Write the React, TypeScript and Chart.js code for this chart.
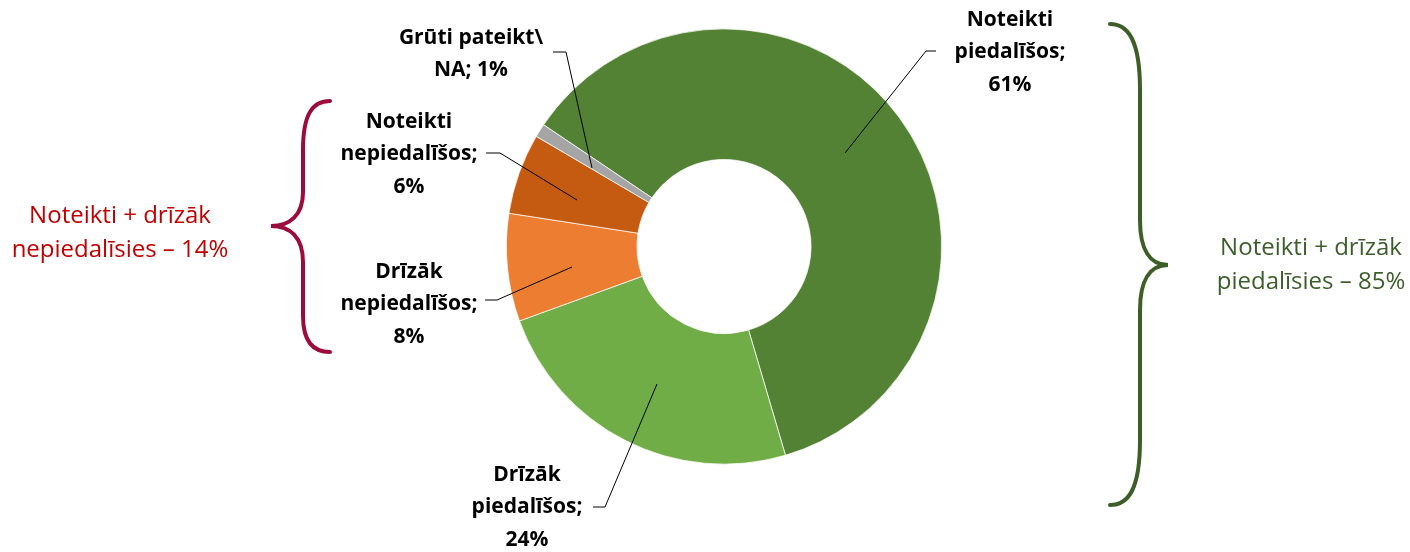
import React, { useEffect, useRef } from "react";
import { Chart, registerables } from "chart.js";

Chart.register(...registerables);

const categories = [
  "Noteikti piedalīšos",
  "Drīzāk piedalīšos",
  "Drīzāk nepiedalīšos",
  "Noteikti nepiedalīšos",
  "Grūti pateikt\\ NA",
];
const values = [61, 24, 8, 6, 1];
const colors = ["#548235", "#70AD47", "#ED7D31", "#C55A11", "#A5A5A5"];

// label text lines per slice
const labelLines = [
  ["Noteikti", "piedalīšos;", "61%"],
  ["Drīzāk", "piedalīšos;", "24%"],
  ["Drīzāk", "nepiedalīšos;", "8%"],
  ["Noteikti", "nepiedalīšos;", "6%"],
  ["Grūti pateikt\\", "NA; 1%"],
];
// label block centers (x, first line y)
const labelPos = [
  [1010, 20],
  [527, 475],
  [409, 272],
  [409, 122],
  [471, 38],
];
// leader line points
const leaderLines = [
  [[936, 51], [926, 51], [845, 153]],
  [[593, 507], [605, 507], [657, 384]],
  [[485, 300], [497, 300], [572, 267]],
  [[486, 153], [500, 153], [577, 200]],
  [[553, 52], [566, 52], [592, 168]],
];

const groupLeft = ["Noteikti + drīzāk", "nepiedalīsies – 14%"];
const groupRight = ["Noteikti + drīzāk", "piedalīsies – 85%"];

const overlayPlugin = {
  id: "overlay",
  afterDraw(chart: any) {
    const ctx = chart.ctx as CanvasRenderingContext2D;
    ctx.save();
    ctx.strokeStyle = "#000";
    ctx.lineWidth = 1;
    leaderLines.forEach((pts) => {
      ctx.beginPath();
      ctx.moveTo(pts[0][0], pts[0][1]);
      for (let i = 1; i < pts.length; i++) ctx.lineTo(pts[i][0], pts[i][1]);
      ctx.stroke();
    });
    ctx.fillStyle = "#000";
    ctx.font = "bold 21px 'Open Sans'";
    ctx.textAlign = "center";
    ctx.textBaseline = "middle";
    labelLines.forEach((lines, i) => {
      lines.forEach((t, j) => {
        ctx.fillText(t, labelPos[i][0], labelPos[i][1] + j * 32.5);
      });
    });

    // left brace (red)
    ctx.strokeStyle = "#9B0B3B";
    ctx.lineWidth = 4;
    ctx.lineCap = "round";
    ctx.beginPath();
    ctx.moveTo(330, 101);
    ctx.bezierCurveTo(312, 101, 303, 115, 303, 150);
    ctx.lineTo(303, 192);
    ctx.bezierCurveTo(303, 215, 290, 226, 271, 226);
    ctx.bezierCurveTo(290, 226, 303, 237, 303, 262);
    ctx.lineTo(303, 316);
    ctx.bezierCurveTo(303, 340, 312, 352, 330, 352);
    ctx.stroke();

    // right brace (green)
    ctx.strokeStyle = "#3D5F27";
    ctx.beginPath();
    ctx.moveTo(1110, 24);
    ctx.bezierCurveTo(1128, 24, 1140, 40, 1140, 90);
    ctx.lineTo(1140, 220);
    ctx.bezierCurveTo(1140, 250, 1150, 265, 1168, 265);
    ctx.bezierCurveTo(1150, 265, 1140, 280, 1140, 310);
    ctx.lineTo(1140, 440);
    ctx.bezierCurveTo(1140, 490, 1128, 505, 1110, 505);
    ctx.stroke();

    ctx.font = "24px 'Open Sans'";
    ctx.fillStyle = "#C00000";
    groupLeft.forEach((t, j) => ctx.fillText(t, 120, 216 + j * 34));
    ctx.fillStyle = "#3B5E2A";
    groupRight.forEach((t, j) => ctx.fillText(t, 1311, 248 + j * 34));
    ctx.restore();
  },
};

export default function App() {
  const ref = useRef<HTMLCanvasElement>(null);
  useEffect(() => {
    const chart = new Chart(ref.current!, {
      type: "doughnut",
      data: {
        labels: categories,
        datasets: [
          {
            data: values,
            backgroundColor: colors,
            borderColor: "#ffffff",
            borderWidth: 0.75,
          },
        ],
      },
      options: {
        responsive: false,
        animation: false,
        rotation: -56,
        cutout: "40%",
        layout: { padding: { left: 506, right: 468, top: 28.5, bottom: 87.5 } },
        plugins: { legend: { display: false }, tooltip: { enabled: false } },
      },
      plugins: [overlayPlugin],
    });
    return () => chart.destroy();
  }, []);
  return (
    <div style={{ position: "fixed", left: 0, top: 0, width: 1410, height: 552, background: "#fff" }}>
      <canvas ref={ref} width={1410} height={552} />
    </div>
  );
}
